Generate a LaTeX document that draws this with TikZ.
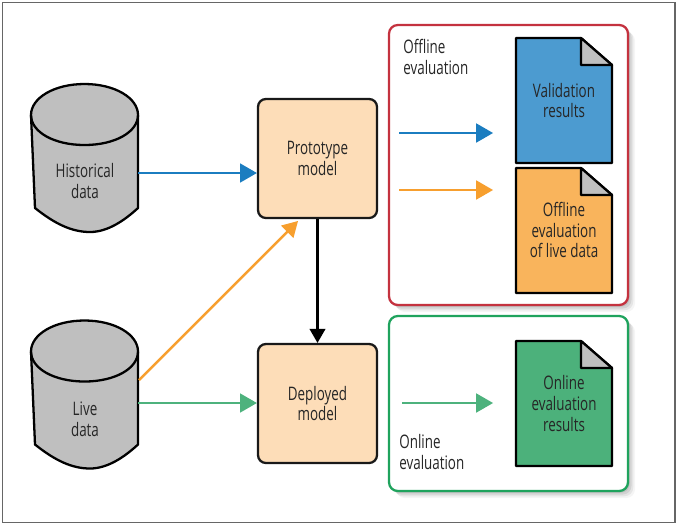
\documentclass[tikz,border=0pt]{standalone}
\usepackage{fontspec}
\setmainfont{Open Sans}[FakeStretch=0.72]
\usetikzlibrary{arrows}
\usetikzlibrary{shadows}
\definecolor{peach}{HTML}{FDDDB8}
\definecolor{dbgray}{HTML}{BFBFBF}
\definecolor{lineblue}{HTML}{1B7DC0}
\definecolor{lineorange}{HTML}{F79F2E}
\definecolor{linegreen}{HTML}{4DB27D}
\definecolor{docblue}{HTML}{4C9BD0}
\definecolor{docorange}{HTML}{F9B45C}
\definecolor{docgreen}{HTML}{4CB17B}
\definecolor{boxred}{HTML}{C4323F}
\definecolor{boxgreen}{HTML}{1FA35D}
\tikzset{
  label/.style={text=black!85,font=\fontsize{10.6}{11.9}\selectfont,align=center,inner sep=0pt},
  textleft/.style={label,align=left,anchor=north west},
  holder/.style={inner sep=0pt,minimum width=107*0.02cm},
  modelbox/.style={draw=black!90,line width=1.3pt,fill=peach,rounded corners=4.5pt,minimum width=119*0.02cm,minimum height=119*0.02cm,label},
  evalbox/.style={line width=1.3pt,fill=white,rounded corners=5pt,minimum width=239*0.02cm,inner sep=0pt,
    drop shadow={shadow xshift=1pt,shadow yshift=-1pt,opacity=.22},
    drop shadow={shadow xshift=2pt,shadow yshift=-2pt,opacity=.18},
    drop shadow={shadow xshift=3pt,shadow yshift=-3pt,opacity=.14},
    drop shadow={shadow xshift=4pt,shadow yshift=-4pt,opacity=.08}},
  flow/.style={line width=1.4pt,->},
  flowflat/.style={line width=1.65pt,->},
  outline/.style={draw=black,line width=1.3pt,line join=round}
}
\begin{document}
\begin{tikzpicture}[>=triangle 60,x=0.02cm,y=-0.02cm]
\useasboundingbox (0,0) rectangle (678,525);
% frame
\draw[black!60,line width=0.8pt] (2.5,2.5) rectangle (675,522.5);
% red and green boxes
\node[evalbox,draw=boxred,minimum height=280*0.02cm] (offbox) at (508.5,165) {};
\node[evalbox,draw=boxgreen,minimum height=175*0.02cm] (onbox) at (508.5,403.5) {};
% databases
\foreach \cy in {115,351.5}{
  \draw[outline,fill=dbgray] (31,\cy) -- (35,\cy+93) .. controls (55,\cy+109) and (72,\cy+117) .. (90,\cy+117)
    .. controls (108,\cy+117) and (125,\cy+105) .. (138,\cy+93) -- (138,\cy)
    .. controls (138,\cy-17) and (115,\cy-31) .. (84.5,\cy-31) .. controls (54,\cy-31) and (31,\cy-17) .. (31,\cy) -- cycle;
  \draw[outline] (31,\cy) .. controls (31,\cy+17) and (54,\cy+30) .. (84.5,\cy+30) .. controls (115,\cy+30) and (138,\cy+17) .. (138,\cy);
}
\node[holder,minimum height=116*0.02cm] (hist) at (84.5,173) {};
\node[holder,minimum height=116*0.02cm] (live) at (84.5,403) {};
\node[label] at (85,181) {Historical\\data};
\node[label] at (85,419) {Live\\data};
% models
\node[modelbox] (proto) at (317.5,158.5) {Prototype\\model};
\node[modelbox] (depl) at (317.5,403.5) {Deployed\\model};
% documents
\foreach \dy/\dcol in {38/docblue,168/docorange,341/docgreen}{
  \draw[outline,fill=\dcol] (516,\dy) -- (581,\dy) -- (612,\dy+27) -- (612,\dy+125) -- (516,\dy+125) -- cycle;
  \draw[outline,fill=dbgray] (581,\dy) -- (612,\dy+27) -- (581,\dy+27) -- cycle;
}
\node[label] (valid) at (564,100.5) {Validation\\results};
\node[label] (offl) at (564,230) {Offline\\evaluation\\of live data};
\node[label] (onl) at (564,403.5) {Online\\evaluation\\results};
% box titles
\node[textleft] (offtitle) at (403,39) {Offline\\evaluation};
\node[textleft] (ontitle) at (399,434) {Online\\evaluation};
% connectors
\coordinate (liveout) at (139,380);
\coordinate (protoin) at (298,221);
\draw[flowflat,lineblue] (hist.east) -- (hist.east -| proto.west);
\draw[flowflat,linegreen] (live.east) -- (live.east -| depl.west);
\draw[flow,lineorange] (liveout) -- (protoin);
\draw[flow,black,line width=1.2pt] (proto) -- (depl);
% arrows inside boxes
\coordinate (bluestart) at (399,133);
\coordinate (blueend) at (493,133);
\coordinate (orangestart) at (399,190);
\coordinate (orangeend) at (493,190);
\coordinate (greenstart) at (402,403);
\coordinate (greenend) at (493,403);
\draw[flowflat,lineblue] (bluestart) -- (blueend);
\draw[flowflat,lineorange] (orangestart) -- (orangeend);
\draw[flowflat,linegreen] (greenstart) -- (greenend);
\end{tikzpicture}
\end{document}
